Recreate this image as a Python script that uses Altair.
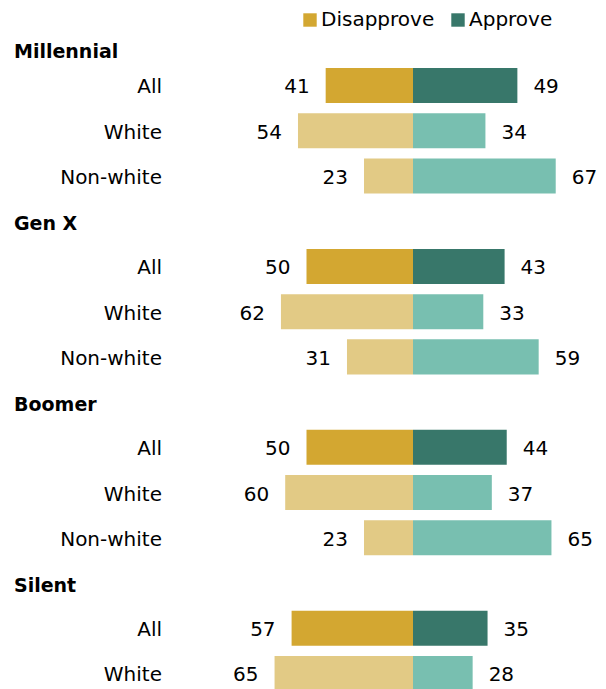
import altair as alt
import pandas as pd

generations = ["Millennial", "Gen X", "Boomer", "Silent"]
row_gen = ["Millennial"] * 3 + ["Gen X"] * 3 + ["Boomer"] * 3 + ["Silent"] * 2
row_group = ["All", "White", "Non-white"] * 3 + ["All", "White"]
disapprove = [41, 54, 23, 50, 62, 31, 50, 60, 23, 57, 65]
approve = [49, 34, 67, 43, 33, 59, 44, 37, 65, 35, 28]

color_keys = ["Disapprove", "Approve", "Disapprove (subgroup)", "Approve (subgroup)"]
color_values = ["#D3A731", "#38776A", "#E2CA85", "#78BFB0"]

order = []
for g in generations:
    order.append(g + "|header")
    for gen, grp in zip(row_gen, row_group):
        if gen == g:
            order.append(g + "|" + grp)

records = []
for gen, grp, d, a in zip(row_gen, row_group, disapprove, approve):
    row = gen + "|" + grp
    sub = "" if grp == "All" else " (subgroup)"
    records.append(dict(row=row, group=grp, series="Disapprove", x0=-d, x1=0, val=d, key="Disapprove" + sub))
    records.append(dict(row=row, group=grp, series="Approve", x0=0, x1=a, val=a, key="Approve" + sub))
bars = pd.DataFrame(records)
cats = pd.DataFrame(dict(row=[g + "|" + r for g, r in zip(row_gen, row_group)], group=row_group))
heads = pd.DataFrame(dict(row=[g + "|header" for g in generations], gen=generations))

FONT = "DejaVu Sans"

yenc = alt.Y("row:N", scale=alt.Scale(domain=order, range=[9.65, 688.1], paddingInner=0.226, paddingOuter=0.113), axis=None)
xscale = alt.Scale(domain=[-190.14, 86.85], nice=False, zero=False)

bar = alt.Chart(bars).mark_bar().encode(
    x=alt.X("x0:Q", scale=xscale, axis=None),
    x2="x1:Q",
    y=yenc,
    color=alt.Color(
        "key:N",
        scale=alt.Scale(domain=color_keys, range=color_values),
        legend=alt.Legend(
            title=None, values=["Disapprove", "Approve"], orient="none", direction="horizontal",
            legendX=292, legendY=2, symbolType="square", symbolSize=180, symbolStrokeWidth=0,
            labelFont=FONT, labelFontSize=20, labelColor="#000", labelOffset=1, columnPadding=13,
            padding=0,
        ),
    ),
)

dis_lbl = alt.Chart(bars).transform_filter(alt.datum.series == "Disapprove").mark_text(
    align="right", baseline="middle", dx=-16, dy=2, font=FONT, fontSize=20, color="#000"
).encode(x=alt.X("x0:Q", scale=xscale), y=yenc, text="val:Q")

app_lbl = alt.Chart(bars).transform_filter(alt.datum.series == "Approve").mark_text(
    align="left", baseline="middle", dx=16, dy=2, font=FONT, fontSize=20, color="#000"
).encode(x=alt.X("x1:Q", scale=xscale), y=yenc, text="val:Q")

cat_lbl = alt.Chart(cats).mark_text(
    align="right", baseline="middle", dy=2, font=FONT, fontSize=20, color="#000"
).encode(x=alt.value(154), y=yenc, text="group:N")

head_first = alt.Chart(heads).transform_filter(alt.datum.gen == "Millennial").mark_text(
    align="left", baseline="middle", dy=12, font=FONT, fontSize=19, fontWeight="bold", color="#000"
).encode(x=alt.value(6), y=yenc, text="gen:N")

head_rest = alt.Chart(heads).transform_filter(alt.datum.gen != "Millennial").mark_text(
    align="left", baseline="middle", dy=3, font=FONT, fontSize=19, fontWeight="bold", color="#000"
).encode(x=alt.value(6), y=yenc, text="gen:N")

chart = alt.layer(bar, dis_lbl, app_lbl, cat_lbl, head_first, head_rest).properties(
    width=590, height=681, autosize=alt.AutoSizeParams(type="none"), padding=0
).configure_view(strokeWidth=0)

chart.save("out.html", embed_options={"renderer": "svg", "actions": False})
